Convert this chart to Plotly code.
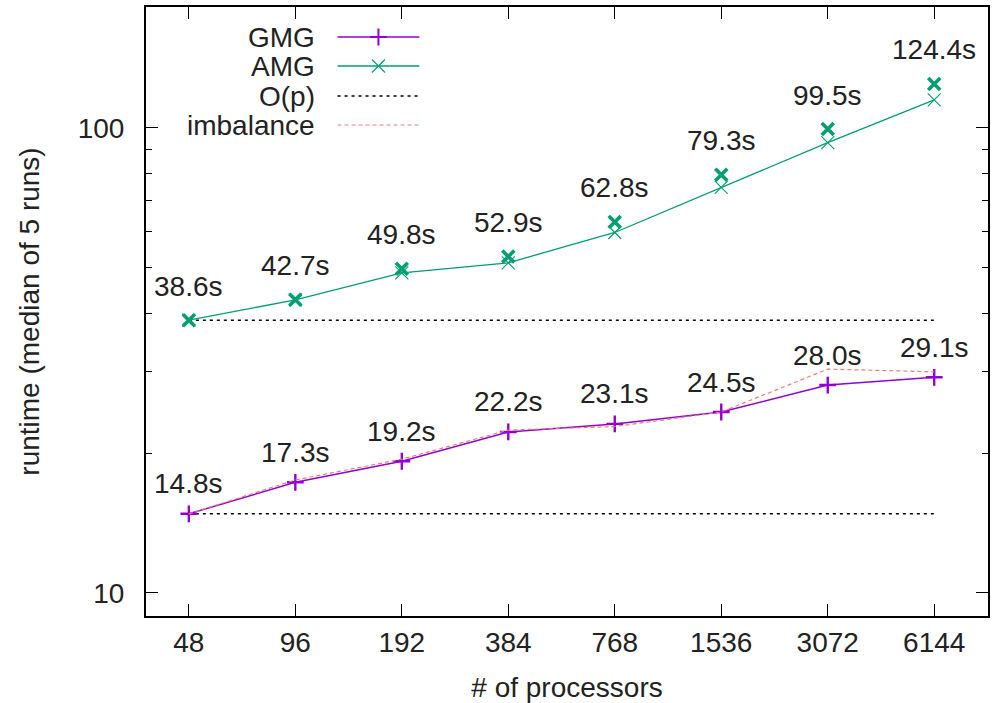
import math
import plotly.graph_objects as go

# processor counts (x categories, log2-spaced)
processors = [48, 96, 192, 384, 768, 1536, 3072, 6144]
tick_labels = [str(p) for p in processors]

# runtimes in seconds (median of 5 runs)
gmg_runtime = [14.8, 17.3, 19.2, 22.2, 23.1, 24.5, 28.0, 29.1]
gmg_imbalance = [14.8, 17.5, 19.4, 22.4, 22.8, 24.5, 30.3, 29.9]
amg_runtime = [38.6, 42.7, 49.8, 52.9, 62.8, 79.3, 99.5, 124.4]
amg_curve = [38.6, 42.7, 48.8, 51.3, 59.6, 74.5, 93.0, 114.9]

y_major = [10, 100]
y_minor = [20, 30, 40, 50, 60, 70, 80, 90]

PURPLE = "#9400D3"
GREEN = "#009E73"
PINK = "#E8806E"
TEXT = "#222222"
FONT = "Liberation Sans, Arial, sans-serif"
FS = 28

fig = go.Figure()

# O(p) reference lines: flat at the smallest-run runtime
for base in (amg_runtime[0], gmg_runtime[0]):
    fig.add_trace(go.Scatter(
        x=processors, y=[base] * len(processors), mode="lines",
        line=dict(color="black", width=1.6, dash="3px,4px"),
        showlegend=False, hoverinfo="skip"))

# GMG runtime with + markers
fig.add_trace(go.Scatter(
    x=processors, y=gmg_runtime, mode="lines+markers",
    line=dict(color=PURPLE, width=1.5),
    marker=dict(symbol="cross-thin", size=12, line=dict(color=PURPLE, width=2.4)),
    showlegend=False))

# load imbalance curve
fig.add_trace(go.Scatter(
    x=processors, y=gmg_imbalance, mode="lines",
    line=dict(color=PINK, width=1.2, dash="4px,3px"),
    showlegend=False))

# AMG curve with thin x markers
fig.add_trace(go.Scatter(
    x=processors, y=amg_curve, mode="lines+markers",
    line=dict(color=GREEN, width=1.3),
    marker=dict(symbol="x-thin", size=13, line=dict(color=GREEN, width=1.1)),
    showlegend=False))

# AMG measured runtimes, bold x
fig.add_trace(go.Scatter(
    x=processors, y=amg_runtime, mode="markers",
    marker=dict(symbol="x-thin", size=12, line=dict(color=GREEN, width=3.6)),
    showlegend=False))

# value labels above the points (annotation coordinates on log axes are log10)
annotations = []
for series, shift in ((gmg_runtime, 30), (amg_runtime, 34)):
    for p, v in zip(processors, series):
        annotations.append(dict(
            x=math.log10(p), y=math.log10(v), xref="x", yref="y",
            text=f"{v:.1f}s", showarrow=False, yshift=shift,
            font=dict(family=FONT, size=FS, color=TEXT)))

# legend block (text right-aligned, sample to its right), in pixel-like units on an overlay axis
legend_items = [
    ("GMG", dict(color=PURPLE, width=1.5), dict(symbol="cross-thin", size=12, line=dict(color=PURPLE, width=2))),
    ("AMG", dict(color=GREEN, width=1.3), dict(symbol="x-thin", size=13, line=dict(color=GREEN, width=1.1))),
    ("O(p)", dict(color="black", width=1.6, dash="3px,4px"), None),
    ("imbalance", dict(color=PINK, width=1.2, dash="4px,3px"), None),
]
legend_rows = [37, 66, 96, 125]
for (name, lstyle, mstyle), row in zip(legend_items, legend_rows):
    fig.add_trace(go.Scatter(
        x=[338, 420], y=[row, row], mode="lines", line=lstyle,
        xaxis="x2", yaxis="y2", showlegend=False, hoverinfo="skip"))
    if mstyle is not None:
        fig.add_trace(go.Scatter(
            x=[379], y=[row], mode="markers", marker=mstyle,
            xaxis="x2", yaxis="y2", showlegend=False, hoverinfo="skip"))
    annotations.append(dict(
        x=317, y=row, xref="x2", yref="y2", text=name, showarrow=False,
        xanchor="right", yanchor="middle",
        font=dict(family=FONT, size=FS, color=TEXT)))

fig.update_layout(
    width=992, height=703,
    margin=dict(l=146, r=2, t=7, b=87),
    paper_bgcolor="white", plot_bgcolor="white",
    font=dict(family=FONT, size=FS, color=TEXT),
    showlegend=False,
    annotations=annotations,
    xaxis=dict(
        type="log", range=[1.5601, 3.9405],
        tickmode="array", tickvals=processors, ticktext=tick_labels,
        ticks="inside", ticklen=12, tickwidth=1.3, tickcolor="black",
        showline=True, linecolor="black", linewidth=2, mirror="ticks",
        showgrid=False, zeroline=False,
        title=dict(text="# of processors", standoff=22,
                   font=dict(family=FONT, size=FS, color=TEXT)),
        tickfont=dict(family=FONT, size=FS, color=TEXT),
    ),
    yaxis=dict(
        type="log", range=[0.9505, 2.2602],
        tickmode="array", tickvals=y_major, ticktext=[str(v) for v in y_major],
        ticks="inside", ticklen=12, tickwidth=1.3, tickcolor="black",
        minor=dict(tickmode="array", tickvals=y_minor, ticks="inside",
                   ticklen=6, tickwidth=1.3, tickcolor="black", showgrid=False),
        showline=True, linecolor="black", linewidth=2, mirror="ticks",
        showgrid=False, zeroline=False, ticklabelstandoff=14,
        title=dict(text="runtime (median of 5 runs)", standoff=30,
                   font=dict(family=FONT, size=FS, color=TEXT)),
        tickfont=dict(family=FONT, size=FS, color=TEXT),
    ),
    xaxis2=dict(overlaying="x", range=[146, 990], visible=False, fixedrange=True),
    yaxis2=dict(overlaying="y", range=[616, 7], visible=False, fixedrange=True),
)

fig.write_html("out.html")
